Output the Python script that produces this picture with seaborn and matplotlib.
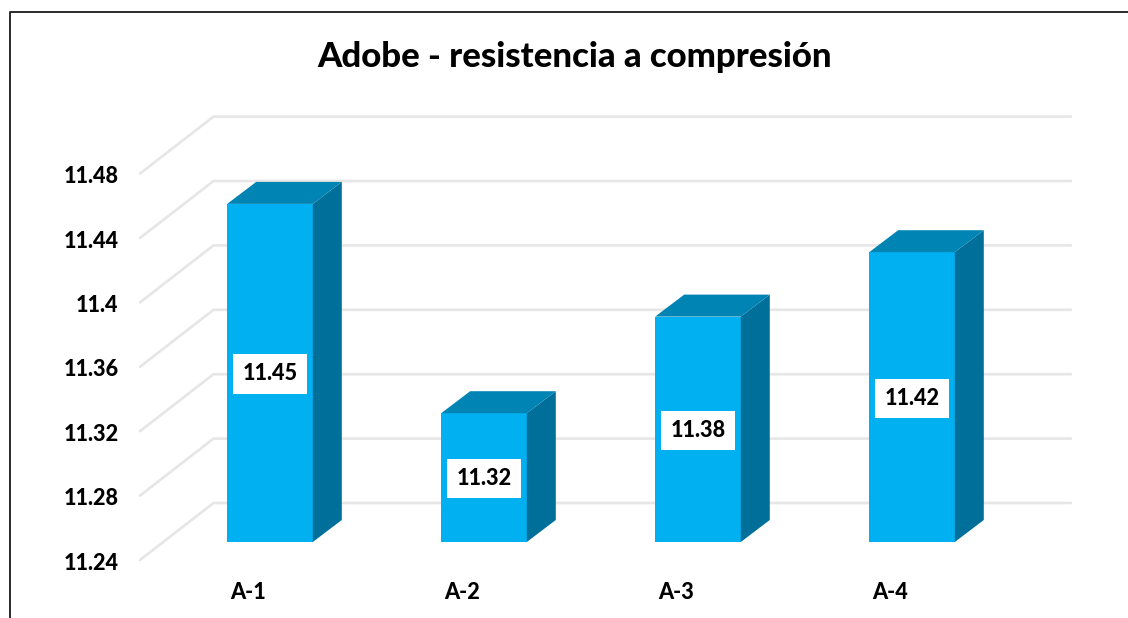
import pandas as pd
import seaborn as sns
import matplotlib.pyplot as plt
from matplotlib.lines import Line2D
from matplotlib.patches import Polygon
from matplotlib.transforms import Affine2D

# Valores del grafico
muestras = ['A-1', 'A-2', 'A-3', 'A-4']
resistencia = [11.45, 11.32, 11.38, 11.42]
y_ticks = [11.24, 11.28, 11.32, 11.36, 11.40, 11.44, 11.48]
y_labels = ['11.24', '11.28', '11.32', '11.36', '11.4', '11.44', '11.48']
titulo = 'Adobe - resistencia a compresión'

W, H = 1128, 618
FRONT = '#00B0F0'
SIDE = '#00709B'
TOP = '#0084B4'
GRID = '#E6E6E6'
WEIGHT = 900

sns.set_style('white')
plt.rcParams['font.family'] = ['Lato', 'DejaVu Sans']

df = pd.DataFrame({'muestra': muestras, 'resistencia': resistencia})

fig = plt.figure(figsize=(W / 100, H / 100), dpi=100)
ax = fig.add_axes([163 / W, (H - 542) / H, 856 / W, 386.4 / H])
sns.barplot(data=df, x='muestra', y='resistencia', color=FRONT, saturation=1, width=0.4, linewidth=0, ax=ax)

ax.set_xlim(-0.5, 3.5)
ax.set_ylim(y_ticks[0], y_ticks[-1])
ax.set_xlabel('')
ax.set_ylabel('')
sns.despine(ax=ax, left=True, bottom=True)
ax.patch.set_alpha(0)

# pixeles -> unidades de datos
px_x = 856 / 4
px_y = 386.4 / (y_ticks[-1] - y_ticks[0])

# Paredes falsas en 3D
back_x, back_y = 50.5 / px_x, 39 / px_y
front_x, front_y = -23 / px_x, -18 / px_y
for tick in y_ticks:
    ax.plot([-0.5 + front_x, -0.5 + back_x, 3.5 + back_x + 1.5 / px_x],
            [tick + front_y, tick + back_y, tick + back_y],
            color=GRID, lw=1.9, zorder=0, clip_on=False)

# Caras lateral y superior de cada barra
depth_x, depth_y = 29 / px_x, 22 / px_y
for bar in ax.patches[:len(muestras)]:
    left = bar.get_x()
    right = left + bar.get_width()
    top = bar.get_height()
    bar.set_zorder(3)
    ax.add_patch(Polygon([(right, y_ticks[0]), (right + depth_x, y_ticks[0] + depth_y),
                          (right + depth_x, top + depth_y), (right, top)],
                         facecolor=SIDE, edgecolor='none', zorder=3, clip_on=False))
    ax.add_patch(Polygon([(left, top), (left + depth_x, top + depth_y),
                          (right + depth_x, top + depth_y), (right, top)],
                         facecolor=TOP, edgecolor='none', zorder=3, clip_on=False))
    ax.text(left + bar.get_width() / 2, (y_ticks[0] + top) / 2 - 1 / px_y, f'{top:.2f}',
            ha='center', va='center', fontsize=15.6, fontweight=WEIGHT, color='black', zorder=5,
            bbox=dict(facecolor='white', edgecolor='none', pad=6.5))

# Etiquetas de ejes
ax.set_yticks(y_ticks)
ax.set_yticklabels(y_labels, fontsize=15.6, fontweight=WEIGHT, color='black')
ax.set_xticks(range(len(muestras)))
ax.set_xticklabels(muestras, fontsize=15.6, fontweight=WEIGHT, color='black')
ax.tick_params(axis='y', length=0, pad=32)
ax.tick_params(axis='x', length=0, pad=29)
for label in ax.get_yticklabels():
    label.set_transform(label.get_transform() + Affine2D().translate(0, -19))
for label in ax.get_xticklabels():
    label.set_transform(label.get_transform() + Affine2D().translate(-22, 0))

fig.text(575 / W, 1 - 57 / H, titulo, ha='center', va='center',
         fontsize=25, fontweight=WEIGHT, color='black')

# Marco recortado de la captura
fig.add_artist(Line2D([10 / W, 10 / W, 1], [0, 1 - 12 / H, 1 - 12 / H], color='#1A1A1A', lw=1.3))

fig.savefig('out.png', dpi=100, facecolor='white')
